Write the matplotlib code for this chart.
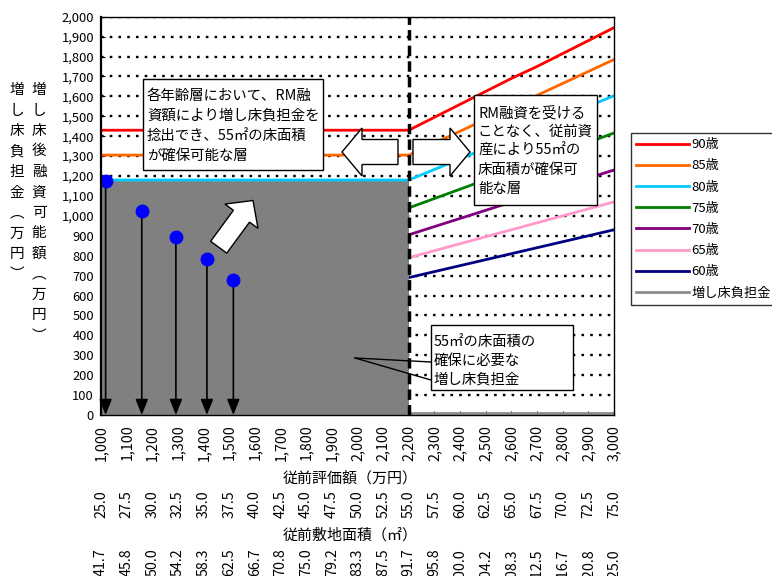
import numpy as np
import matplotlib
matplotlib.use("Agg")
import matplotlib.pyplot as plt
from matplotlib.patches import Polygon, Rectangle
from matplotlib.lines import Line2D

plt.rcParams['font.family'] = ['Noto Sans CJK JP', 'DejaVu Sans']

W, H = 772, 576

# data
x_vals = [1000, 1100, 1200, 1300, 1400, 1500, 1600, 1700, 1800, 1900, 2000,
          2100, 2200, 2300, 2400, 2500, 2600, 2700, 2800, 2900, 3000]
area_vals = [25.0, 27.5, 30.0, 32.5, 35.0, 37.5, 40.0, 42.5, 45.0, 47.5, 50.0,
             52.5, 55.0, 57.5, 60.0, 62.5, 65.0, 67.5, 70.0, 72.5, 75.0]
row3_vals = [41.7, 45.8, 50.0, 54.2, 58.3, 62.5, 66.7, 70.8, 75.0, 79.2, 83.3,
             87.5, 91.7, 95.8, 100.0, 104.2, 108.3, 112.5, 116.7, 120.8, 125.0]

age_90 = [1430, 1430, 1430, 1430, 1430, 1430, 1430, 1430, 1430, 1430, 1430,
          1430, 1430, 1495, 1560, 1625, 1690, 1750, 1815, 1880, 1945]
age_85 = [1305, 1305, 1305, 1305, 1305, 1305, 1305, 1305, 1305, 1305, 1305,
          1305, 1305, 1365, 1425, 1485, 1545, 1605, 1665, 1725, 1785]
age_80 = [1180, 1180, 1180, 1180, 1180, 1180, 1180, 1180, 1180, 1180, 1180,
          1180, 1180, 1233, 1286, 1339, 1392, 1445, 1498, 1550, 1603]
age_75 = [1040, 1040, 1040, 1040, 1040, 1040, 1040, 1040, 1040, 1040, 1040,
          1040, 1040, 1087, 1134, 1181, 1228, 1275, 1322, 1369, 1416]
age_70 = [905, 905, 905, 905, 905, 905, 905, 905, 905, 905, 905,
          905, 905, 946, 987, 1028, 1069, 1110, 1150, 1190, 1230]
age_65 = [790, 790, 790, 790, 790, 790, 790, 790, 790, 790, 790,
          790, 790, 825, 860, 895, 930, 965, 1000, 1035, 1070]
age_60 = [690, 690, 690, 690, 690, 690, 690, 690, 690, 690, 690,
          690, 690, 720, 750, 780, 810, 840, 870, 900, 930]
# 増し床負担金: area up to 2,200, thin line near zero from 2,200 on
burden_area = [1180, 1180, 1180, 1180, 1180, 1180, 1180, 1180, 1180, 1180, 1180,
               1180, 1180]
burden_line_x = [2200, 2300, 2400, 2500, 2600, 2700, 2800, 2900, 3000]
burden_line = [8, 8, 8, 8, 8, 8, 8, 8, 8]

dot_x = [1018, 1159, 1292, 1413, 1516]
dot_y = [1176, 1025, 895, 782, 678]

series = [
    ('90歳', age_90, '#FF0000', 3),
    ('85歳', age_85, '#FF6600', 3),
    ('80歳', age_80, '#00CCFF', 3),
    ('75歳', age_75, '#008000', 1.5),
    ('70歳', age_70, '#800080', 1.5),
    ('65歳', age_65, '#FF99CC', 1.5),
    ('60歳', age_60, '#000080', 1.5),
]

fig = plt.figure(figsize=(W / 100, H / 100), dpi=100)
ax = fig.add_axes([101 / W, 1 - 415 / H, (614 - 101) / W, (415 - 16.7) / H])

# dotted gridlines
for yv in range(100, 2001, 100):
    ax.axhline(yv, color='black', lw=1.7, dashes=(1.1, 2.6), zorder=1)

handles = []
for name, vals, col, z in series:
    ln, = ax.plot(x_vals, vals, color=col, lw=2, zorder=z, label=name)
    handles.append(ln)

ax.fill_between(x_vals[:len(burden_area)], 0, burden_area, color='#808080', lw=0, zorder=2)
gl, = ax.plot(burden_line_x, burden_line, color='#8c8c8c', lw=2, zorder=2, label='増し床負担金')
handles.append(gl)

ax.axvline(2200, color='black', lw=2.5, dashes=(3, 1.5), zorder=4)

# blue dots with arrows down
for dx, dy in zip(dot_x, dot_y):
    ax.annotate('', xy=(dx, 0), xytext=(dx, dy),
                arrowprops=dict(arrowstyle='-|>,head_width=0.38,head_length=0.95',
                                color='black', lw=1.2, shrinkA=0, shrinkB=0),
                zorder=5)
ax.plot(dot_x, dot_y, 'o', color='#0000FF', ms=9, zorder=6)

ax.set_xlim(1000, 3000)
ax.set_ylim(0, 2000)
ax.set_xticks(x_vals)
ax.set_xticklabels([f'{v:,}' for v in x_vals], rotation=90, fontsize=10.3)
ax.set_yticks(range(0, 2001, 100))
ax.set_yticklabels([f'{v:,}' for v in range(0, 2001, 100)], fontsize=9.3)
ax.tick_params(axis='x', direction='in', length=3, pad=7)
ax.tick_params(axis='y', direction='in', length=3, pad=5)
for s in ax.spines.values():
    s.set_linewidth(1)
    s.set_zorder(7)
ax.spines['left'].set_linewidth(1.6)

# extra x label rows
xt = ax.get_xaxis_transform()
for xv, a, r in zip(x_vals, area_vals, row3_vals):
    ax.text(xv, (415 - 490) / (415 - 16.7), f'{a:.1f}', transform=xt, rotation=90,
            ha='center', va='top', fontsize=10.3, clip_on=False)
    ax.text(xv, (415 - 548) / (415 - 16.7), f'{r:.1f}', transform=xt, rotation=90,
            ha='center', va='top', fontsize=10.3, clip_on=False)

fig.text(350 / W, 1 - 478 / H, '従前評価額（万円）', ha='center', va='center', fontsize=10.8)
fig.text(350 / W, 1 - 535 / H, '従前敷地面積（㎡）', ha='center', va='center', fontsize=10.8)

# vertical y labels
col1 = '増し床負担金︵万円︶'
col2 = '増し床後融資可能額︵万円︶'
for i, ch in enumerate(col1):
    fig.text(17 / W, 1 - (90 + 20.5 * i) / H, ch, ha='center', va='center', fontsize=10.5)
for i, ch in enumerate(col2):
    fig.text(39 / W, 1 - (90 + 20.5 * i) / H, ch, ha='center', va='center', fontsize=10.5)


def px(p):
    return (p[0] / W, 1 - p[1] / H)


def block_arrow(tail, tip, body_w, head_w, head_len):
    t = np.array(tail, float)
    h = np.array(tip, float)
    d = h - t
    L = np.hypot(*d)
    u = d / L
    n = np.array([-u[1], u[0]])
    b = h - u * head_len
    pts = [t + n * body_w / 2, b + n * body_w / 2, b + n * head_w / 2, h,
           b - n * head_w / 2, b - n * body_w / 2, t - n * body_w / 2]
    fig.add_artist(Polygon([px(p) for p in pts], closed=True, facecolor='white',
                           edgecolor='black', lw=1, transform=fig.transFigure, zorder=8))


block_arrow((398, 152), (342, 152), 25, 48, 20)
block_arrow((413, 152), (470, 152), 25, 48, 20)
block_arrow((218.7, 247.2), (253, 200.5), 20, 41, 19.5)


def text_box(x0, y0, x1, y1, lines, tx, ty0, dy):
    fig.add_artist(Rectangle(px((x0, y1)), (x1 - x0) / W, (y1 - y0) / H,
                             facecolor='white', edgecolor='black', lw=1,
                             transform=fig.transFigure, zorder=8))
    for i, s in enumerate(lines):
        fig.text(tx / W, 1 - (ty0 + dy * i) / H, s, ha='left', va='center',
                 fontsize=10.4, zorder=9)


text_box(143, 79, 323, 170,
         ['各年齢層において、RM融', '資額により増し床負担金を', '捻出でき、55㎡の床面積', 'が確保可能な層'],
         147, 96, 20)
text_box(474, 95, 597, 205,
         ['RM融資を受ける', 'ことなく、従前資', '産により55㎡の', '床面積が確保可', '能な層'],
         478, 113, 19)
text_box(431, 325, 573, 390,
         ['55㎡の床面積の', '確保に必要な', '増し床負担金'],
         434, 342, 19)

# callout tail
fig.add_artist(Line2D([355 / W, 431 / W], [1 - 358 / H, 1 - 362 / H], color='black',
                      lw=1, transform=fig.transFigure, zorder=8))
fig.add_artist(Line2D([355 / W, 431 / W], [1 - 358 / H, 1 - 380 / H], color='black',
                      lw=1, transform=fig.transFigure, zorder=8))

leg = fig.legend(handles=handles, loc='upper left', bbox_to_anchor=(631 / W, 1 - 133 / H),
                 fontsize=9.5, frameon=True, fancybox=False, edgecolor='black',
                 handlelength=4.0, handletextpad=0.2, labelspacing=0.62,
                 borderpad=0.4, borderaxespad=0)
leg.get_frame().set_linewidth(1)

fig.savefig('out.png', dpi=100)
